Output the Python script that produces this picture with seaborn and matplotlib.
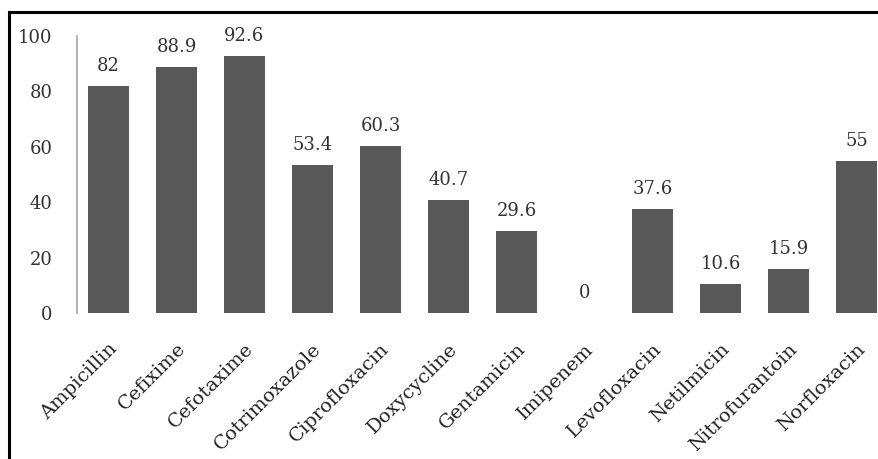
import matplotlib
matplotlib.use("Agg")
import matplotlib.pyplot as plt
import matplotlib.transforms as mtransforms
import pandas as pd
import seaborn as sns
from matplotlib.patches import Rectangle

antibiotics = [
    "Ampicillin", "Cefixime", "Cefotaxime", "Cotrimoxazole", "Ciprofloxacin",
    "Doxycycline", "Gentamicin", "Imipenem", "Levofloxacin", "Netilmicin",
    "Nitrofurantoin", "Norfloxacin",
]
resistance = [82, 88.9, 92.6, 53.4, 60.3, 40.7, 29.6, 0, 37.6, 10.6, 15.9, 55]
y_ticks = [0, 20, 40, 60, 80, 100]

sns.set_style("white")
plt.rcParams["font.family"] = ["DejaVu Serif"]

df = pd.DataFrame({"drug": antibiotics, "pct": resistance})

W, H = 879, 459
fig = plt.figure(figsize=(W / 100, H / 100), dpi=100)
ax = fig.add_axes([77.5 / W, 146 / H, 813 / W, 277 / H])

sns.barplot(data=df, x="drug", y="pct", color="#595959", saturation=1,
            width=0.6, ax=ax)
for p in ax.patches:
    p.set_edgecolor("none")

ax.bar_label(ax.containers[0], labels=[f"{v:g}" for v in resistance],
             padding=8, fontsize=13, color="#333333")

ax.set_xlim(-0.455, 11.5)
ax.set_ylim(0, 100)
ax.set_yticks(y_ticks)
ax.set_xlabel("")
ax.set_ylabel("")
ax.tick_params(axis="y", length=0, pad=18, labelsize=13, labelcolor="#333333")
ax.tick_params(axis="x", length=0, pad=24, labelsize=14, labelcolor="#222222")

offset = mtransforms.ScaledTranslation(6 / 100, 0, fig.dpi_scale_trans)
for lab in ax.get_xticklabels():
    lab.set_rotation(45)
    lab.set_ha("right")
    lab.set_va("center")
    lab.set_rotation_mode("anchor")
    lab.set_transform(lab.get_transform() + offset)

for side in ["top", "right", "bottom"]:
    ax.spines[side].set_visible(False)
ax.spines["left"].set_color("#a6a6a6")
ax.spines["left"].set_linewidth(1.2)

fig.patches.append(Rectangle((8.5 / W, -0.05), 1.1, 0.05 + (H - 12.5) / H,
                             transform=fig.transFigure, fill=False,
                             edgecolor="black", linewidth=2.2, clip_on=False))

fig.savefig("out.png", dpi=100)
